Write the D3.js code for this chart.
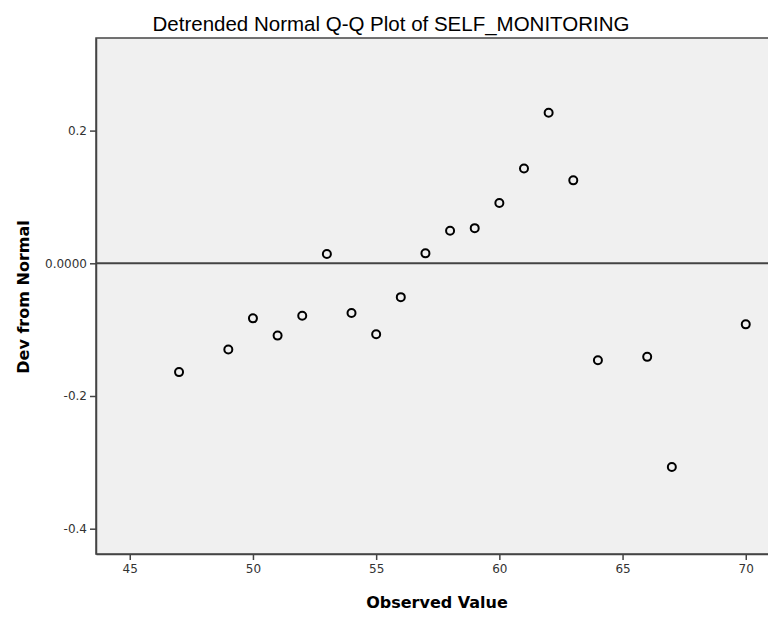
<!DOCTYPE html>
<html>
<head>
<meta charset="utf-8">
<script src="https://cdn.jsdelivr.net/npm/d3@7"></script>
<style>
  body { margin: 0; background: #fff; }
</style>
</head>
<body>
<div id="graph"></div>
<script>
var observed = [47, 49, 50, 51, 52, 53, 54, 55, 56, 57, 58, 59, 60, 61, 62, 63, 64, 66, 67, 70];
var devFromNormal = [-0.164, -0.130, -0.083, -0.109, -0.079, 0.014, -0.075, -0.107, -0.051, 0.015,
                     0.049, 0.053, 0.091, 0.143, 0.227, 0.125, -0.146, -0.141, -0.307, -0.092];
var xTicks = [45, 50, 55, 60, 65, 70];
var yTicks = [0.2, 0, -0.2, -0.4];

var margin = { top: 38, right: -4, bottom: 63, left: 96 },
    width  = 768 - margin.left - margin.right,
    height = 617 - margin.top  - margin.bottom;

var svg = d3.select("#graph")
  .append("svg")
    .attr("width", 768)
    .attr("height", 617)
  .append("g")
    .attr("transform", `translate(${margin.left}, ${margin.top})`);

var x = d3.scaleLinear().domain([43.63, 43.63 + width / 24.64]).range([0, width]);
var y0 = 263.3 - margin.top;
var y = d3.scaleLinear().domain([y0 / 663.5, (y0 - height) / 663.5]).range([0, height]);

// plot background
svg.append("rect")
  .attr("width", width)
  .attr("height", height)
  .attr("fill", "#f0f0f0")
  .attr("stroke", "#444")
  .attr("stroke-width", 1.5);

// zero reference line
svg.append("line")
  .attr("x1", 0).attr("x2", width)
  .attr("y1", y(0)).attr("y2", y(0))
  .attr("stroke", "#444")
  .attr("stroke-width", 2);

// axes
var fmtY = d => d === 0 ? "0.0000" : d3.format(".1f")(d).replace("\u2212", "-");

var xAxisG = svg.append("g")
  .attr("transform", `translate(0, ${height})`)
  .call(d3.axisBottom(x).tickValues(xTicks).tickSizeInner(6).tickSizeOuter(0)
    .tickPadding(4).tickFormat(d3.format("d")));

var yAxisG = svg.append("g")
  .call(d3.axisLeft(y).tickValues(yTicks).tickSizeInner(6).tickSizeOuter(0)
    .tickPadding(3).tickFormat(fmtY));

[xAxisG, yAxisG].forEach(g => {
  g.select(".domain").attr("stroke", "#444").attr("stroke-width", 1.5);
  g.selectAll(".tick line").attr("stroke", "#444").attr("stroke-width", 1.5);
  g.selectAll("text")
    .style("font-family", "DejaVu Sans")
    .style("font-size", "12px")
    .attr("fill", "#333");
});

// points
svg.selectAll(".pt")
  .data(observed.map((v, i) => [v, devFromNormal[i]]))
  .enter()
  .append("circle")
    .attr("class", "pt")
    .attr("cx", d => x(d[0]))
    .attr("cy", d => y(d[1]))
    .attr("r", 4)
    .attr("fill", "none")
    .attr("stroke", "#000")
    .attr("stroke-width", 2);

// title
svg.append("text")
  .attr("text-anchor", "middle")
  .attr("x", 391 - margin.left)
  .attr("y", 31 - margin.top)
  .style("font-family", "Liberation Sans, Arial")
  .style("font-size", "20.5px")
  .attr("fill", "#000")
  .text("Detrended Normal Q-Q Plot of SELF_MONITORING");

// axis labels
svg.append("text")
  .attr("text-anchor", "middle")
  .attr("x", 437 - margin.left)
  .attr("y", 608 - margin.top)
  .style("font-family", "DejaVu Sans")
  .style("font-size", "16px")
  .style("font-weight", "bold")
  .text("Observed Value");

svg.append("text")
  .attr("text-anchor", "middle")
  .attr("transform", `translate(${29 - margin.left}, ${297 - margin.top}) rotate(-90)`)
  .style("font-family", "DejaVu Sans")
  .style("font-size", "16px")
  .style("font-weight", "bold")
  .text("Dev from Normal");
</script>
</body>
</html>
